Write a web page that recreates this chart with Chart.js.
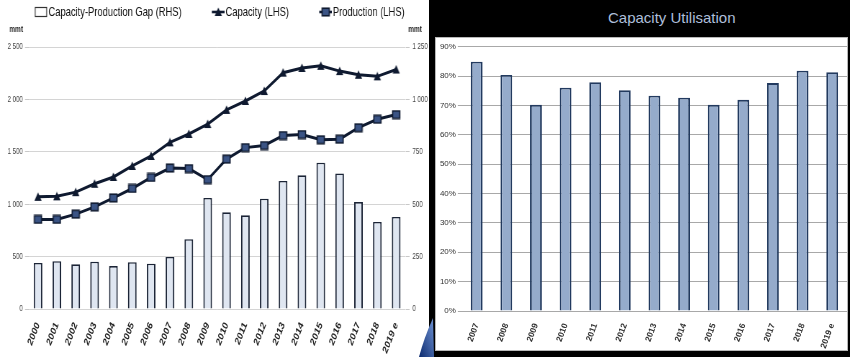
<!DOCTYPE html>
<html>
<head>
<meta charset="utf-8">
<script src="https://cdn.jsdelivr.net/npm/chart.js@4.4.1/dist/chart.umd.min.js"></script>
<style>
  html, body { margin:0; padding:0; }
  body { width:850px; height:357px; overflow:hidden; background:#fff; position:relative; }
  .abs { position:absolute; }
  #leftWrap { left:0; top:0; width:596px; height:357px; transform:scaleX(0.7198); transform-origin:0 0; }
  #blackBg { left:429px; top:0; width:421px; height:357px; background:#000; }
  #panel { left:435px; top:37px; width:413px; height:314px; background:#fff; border:1px solid #b8b8b8; box-sizing:border-box; }
  #rightWrap { left:429px; top:0; width:421px; height:357px; }
  #title { left:608px; top:9px; font:15px 'Liberation Sans', Arial, sans-serif; color:#aebfdb; white-space:nowrap; }
  .mmt { top:24px; font:bold 9px 'Liberation Sans', Arial, sans-serif; color:#222; }
</style>
</head>
<body>
<div id="leftWrap" class="abs">
  <canvas id="c1" width="596" height="357"></canvas>
  <div class="abs mmt" style="left:13px;">mmt</div>
  <div class="abs mmt" style="left:567px;">mmt</div>
</div>
<div id="blackBg" class="abs"></div>
<svg class="abs" style="left:0;top:0" width="850" height="357">
  <defs>
    <linearGradient id="sw" x1="0" y1="1" x2="1" y2="0">
      <stop offset="0" stop-color="#0c2a6e"/>
      <stop offset="1" stop-color="#6f93d4"/>
    </linearGradient>
  </defs>
  <path d="M419,357 Q424,338 433,318 L434,357 Z" fill="url(#sw)"/>
</svg>
<div id="panel" class="abs"></div>
<div id="title" class="abs">Capacity Utilisation</div>
<div id="rightWrap" class="abs"><canvas id="c2" width="421" height="357"></canvas></div>
<script>
// ---------- data ----------
const years = ['2000','2001','2002','2003','2004','2005','2006','2007','2008','2009',
               '2010','2011','2012','2013','2014','2015','2016','2017','2018','2019 e'];
const capacity   = [1070,1075,1115,1195,1260,1365,1460,1590,1670,1765,1900,1985,2080,2255,2300,2320,2270,2235,2220,2285];
const production = [855,855,905,975,1060,1150,1255,1345,1340,1235,1430,1540,1560,1655,1665,1615,1620,1730,1810,1855];
const gap        = [220,228,213,226,205,223,216,248,333,530,461,447,526,611,638,698,647,510,415,439];
const lhsTicks = [0,500,1000,1500,2000,2500];
const rhsTicks = [0,250,500,750,1000,1250];

const utilYears   = ['2007','2008','2009','2010','2011','2012','2013','2014','2015','2016','2017','2018','2019 e'];
const utilisation = [84.9,80.4,70.2,76.0,77.9,75.2,73.3,72.6,70.2,71.9,77.6,81.8,81.3];
const utilTicks   = [0,10,20,30,40,50,60,70,80,90];

// ---------- helpers ----------
const sans = "'Liberation Sans', Arial, sans-serif";
const navy = '#0f1a30';
function fmt(v){ return String(v).replace(/\B(?=(\d{3})+(?!\d))/g, ' '); }

function mk(w, h, draw){ const c = document.createElement('canvas'); c.width = w; c.height = h; draw(c.getContext('2d')); return c; }
function tri(g, cx, cy){ g.fillStyle = navy; g.beginPath(); g.moveTo(cx, cy-4.5); g.lineTo(cx+5, cy+4); g.lineTo(cx-5, cy+4); g.closePath(); g.fill(); }
function sq(g, cx, cy){ g.fillStyle = '#3b5485'; g.fillRect(cx-5, cy-3.75, 10, 7.5); g.strokeStyle = navy; g.lineWidth = 1.6; g.strokeRect(cx-5, cy-3.75, 10, 7.5); }

const legendIcons = [
  mk(60, 14, g => { g.fillStyle='#fff'; g.strokeStyle='#333'; g.lineWidth=1.2; g.fillRect(42.5,2.5,16,9); g.strokeRect(42.5,2.5,16,9); }),
  mk(60, 14, g => { g.strokeStyle=navy; g.lineWidth=2.6; g.beginPath(); g.moveTo(42,7); g.lineTo(60,7); g.stroke(); tri(g, 51, 7); }),
  mk(60, 14, g => { g.strokeStyle=navy; g.lineWidth=2.6; g.beginPath(); g.moveTo(42,7); g.lineTo(60,7); g.stroke(); sq(g, 51, 7); })
];
const triPoint = mk(12, 10, g => tri(g, 6, 5));
const sqPoint  = mk(13, 10, g => sq(g, 6.5, 5));

const legendTweak = {
  id: 'legendTweak',
  beforeInit(chart) {
    const fit = chart.legend.fit;
    chart.legend.fit = function(){ fit.call(this); this.height = 47; };
  },
  afterLayout(chart) {
    chart.legend.left -= 11; chart.legend.right -= 11;
  }
};

// ---------- left chart (drawn wide, then squeezed horizontally like the source image) ----------
new Chart(document.getElementById('c1'), {
  type: 'bar',
  data: {
    labels: years,
    datasets: [
      { type:'bar', label:'Capacity-Production Gap (RHS)', data: gap, yAxisID:'y1',
        backgroundColor:'#dfe6f1', borderColor:'#1b2436',
        borderWidth:{top:1.6,left:2,right:2,bottom:0},
        barPercentage:0.46, categoryPercentage:1, order:3 },
      { type:'line', label:'Capacity (LHS)', data: capacity, yAxisID:'y',
        borderColor:navy, borderWidth:3, tension:0,
        pointStyle:triPoint, pointRadius:5, order:1 },
      { type:'line', label:'Production (LHS)', data: production, yAxisID:'y',
        borderColor:navy, borderWidth:3, tension:0,
        pointStyle:sqPoint, pointRadius:5, order:2 }
    ]
  },
  options: {
    responsive:false, animation:false,
    layout:{ padding:0 },
    plugins:{
      tooltip:{enabled:false},
      legend:{
        display:true, position:'top', align:'center',
        labels:{
          usePointStyle:true, pointStyleWidth:49, padding:5.5,
          font:{family:sans, size:13}, color:'#111',
          generateLabels(chart){
            return chart.data.datasets.map((ds,i)=>({
              text: ds.label, pointStyle: legendIcons[i], fillStyle:'#fff', strokeStyle:'#333',
              lineWidth:0, hidden:false, datasetIndex:i, fontColor:'#111'
            }));
          }
        }
      }
    },
    scales:{
      x:{
        grid:{display:false}, border:{display:false},
        ticks:{autoSkip:false, minRotation:62, maxRotation:62, padding:3,
               font:{family:sans, size:11, weight:'bold'}, color:'#222'},
        afterFit(s){ s.height = 48; }
      },
      y:{
        position:'left', min:0, max:2500,
        afterBuildTicks(s){ s.ticks = lhsTicks.map(v=>({value:v})); },
        ticks:{ callback:v=>fmt(v), padding:3, font:{family:sans, size:8.5}, color:'#444'},
        grid:{color:'#d4d4d4', tickLength:5, tickColor:'#c8c8c8'}, border:{display:false},
        afterFit(s){ s.width = 39.7; }
      },
      y1:{
        position:'right', min:0, max:1250,
        afterBuildTicks(s){ s.ticks = rhsTicks.map(v=>({value:v})); },
        ticks:{ callback:v=>fmt(v), padding:4, font:{family:sans, size:8.5}, color:'#444'},
        grid:{drawOnChartArea:false, tickLength:5.5, tickColor:'#c8c8c8'}, border:{display:false},
        afterFit(s){ s.width = 32.5; }
      }
    }
  },
  plugins:[legendTweak]
});

// ---------- right chart ----------
new Chart(document.getElementById('c2'), {
  type:'bar',
  data:{
    labels: utilYears,
    datasets:[{
      label:'Capacity Utilisation', data: utilisation,
      backgroundColor:'#95abcb', borderColor:'#223a5f', borderWidth:1.8,
      barPercentage:0.4, categoryPercentage:1
    }]
  },
  options:{
    responsive:false, animation:false,
    layout:{ padding:{top:46.7, right:3, left:0, bottom:0} },
    plugins:{ legend:{display:false}, tooltip:{enabled:false} },
    scales:{
      x:{
        grid:{display:false}, border:{display:false},
        ticks:{autoSkip:false, minRotation:70, maxRotation:70, padding:3,
               font:{family:sans, size:8.5, weight:'bold'}, color:'#333'},
        afterFit(s){ s.height = 46; }
      },
      y:{
        min:0, max:90,
        afterBuildTicks(s){ s.ticks = utilTicks.map(v=>({value:v})); },
        ticks:{ callback:v=>v+'%', padding:2, font:{family:sans, size:8}, color:'#333'},
        grid:{color:'#a8a8a8', tickLength:4, tickColor:'#a8a8a8'}, border:{display:false},
        afterFit(s){ s.width = 32.9; }
      }
    }
  }
});
</script>
</body>
</html>
